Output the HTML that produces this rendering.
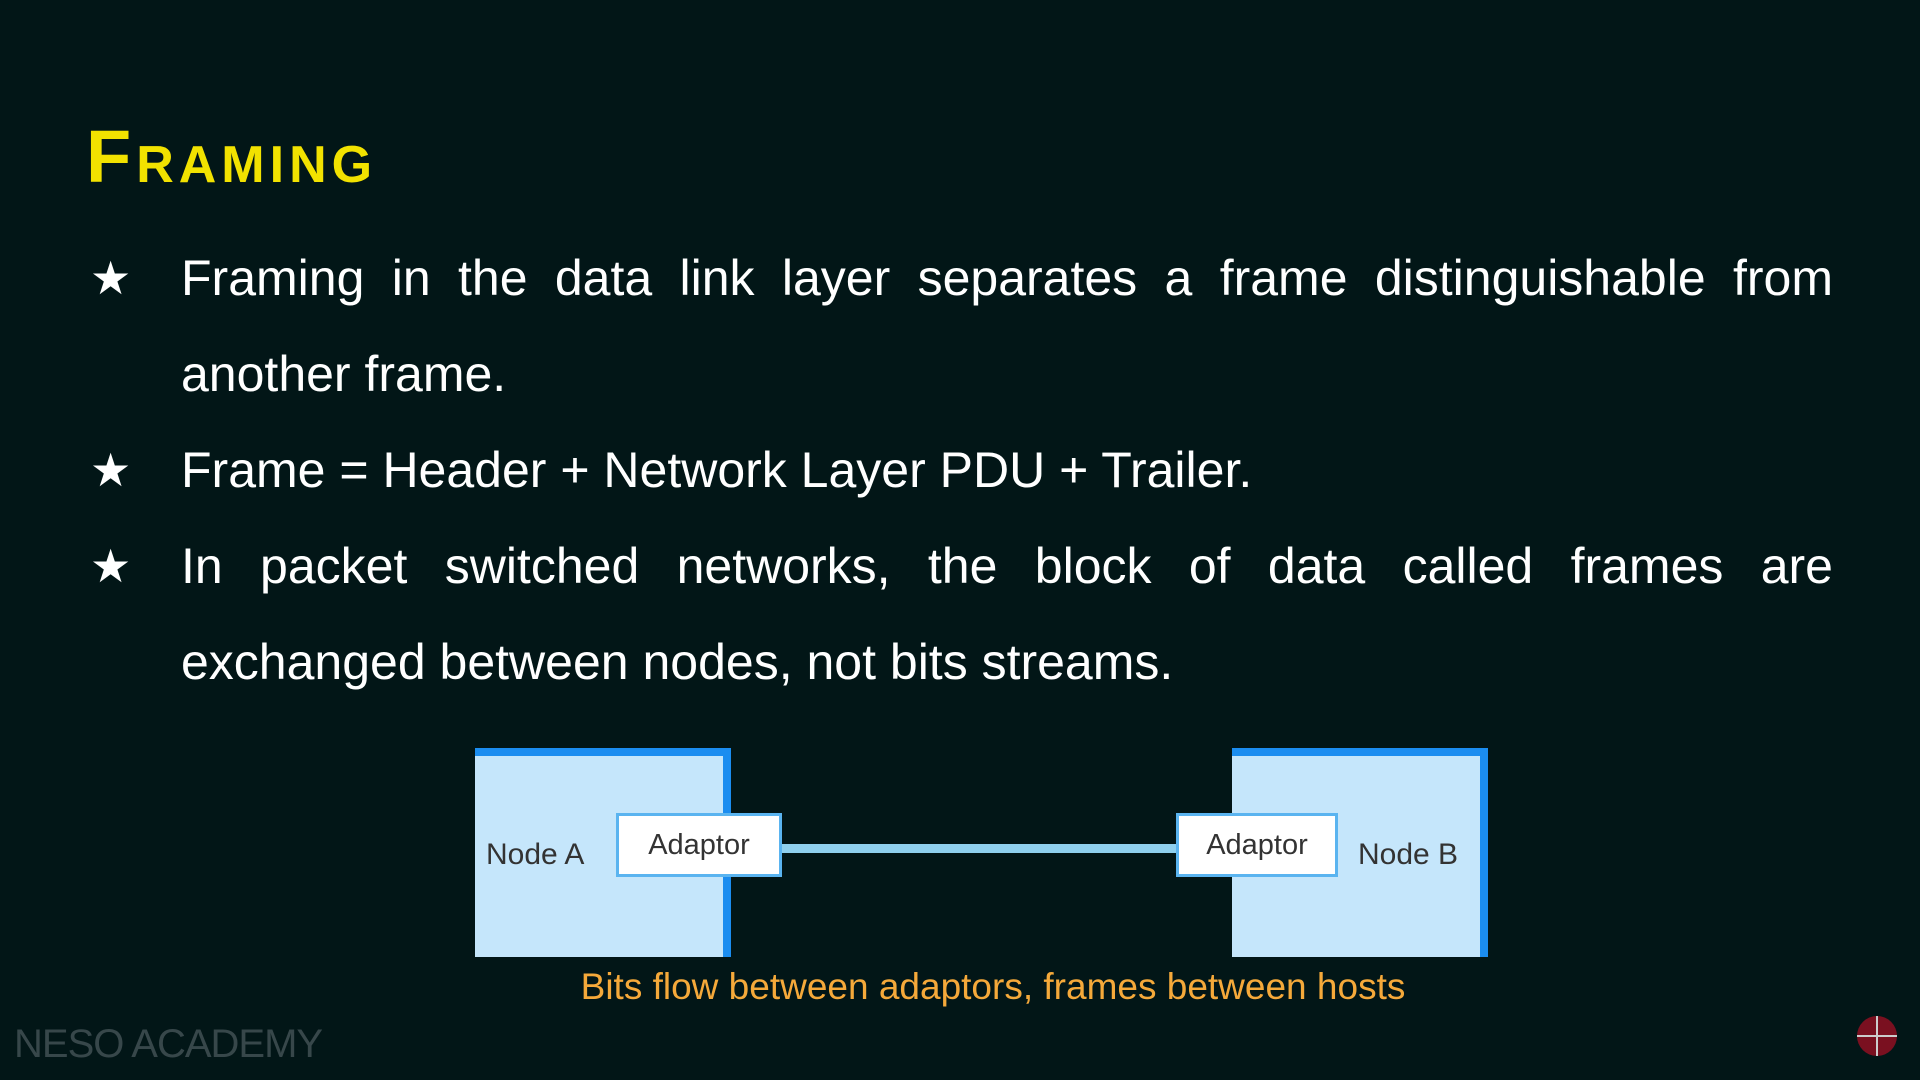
<!DOCTYPE html>
<html><head><meta charset="utf-8"><style>
html,body{margin:0;padding:0}
body{width:1920px;height:1080px;background:#021617;position:relative;overflow:hidden;font-family:"Liberation Sans",sans-serif}
.title{position:absolute;left:86px;top:112px;color:#f2e200;font-size:74px;font-weight:bold;font-variant:small-caps;letter-spacing:5px;line-height:90px}
.star{position:absolute;left:90px;color:#fff;font-size:46px;line-height:96px;font-family:"DejaVu Sans",sans-serif}
.p{position:absolute;left:181px;width:1652px;color:#fff;font-size:50px;line-height:96px;text-align:justify;text-align-last:left}
.box{position:absolute;background:#c5e6fb;box-sizing:border-box}
.node{border-top:8px solid #1b8df0;border-right:8px solid #1b8df0}
.ad{background:#fff;border:3px solid #5ab4f0;color:#333;font-size:29px;display:flex;align-items:center;justify-content:center}
.lbl{position:absolute;color:#333;font-size:30px}
</style></head><body>
<div class="title">Framing</div>
<div class="star" style="top:230px">★</div>
<div class="star" style="top:422px">★</div>
<div class="star" style="top:518px">★</div>
<div class="p" style="top:230px">Framing in the data link layer separates a frame distinguishable from another frame.</div>
<div class="p" style="top:422px">Frame = Header + Network Layer PDU + Trailer.</div>
<div class="p" style="top:518px">In packet switched networks, the block of data called frames are exchanged between nodes, not bits streams.</div>

<div class="box node" style="left:475px;top:748px;width:256px;height:209px"></div>
<div class="box node" style="left:1232px;top:748px;width:256px;height:209px"></div>
<div class="box" style="left:782px;top:844px;width:396px;height:9px;background:#8fd0ee"></div>
<div class="box ad" style="left:616px;top:813px;width:166px;height:64px">Adaptor</div>
<div class="box ad" style="left:1176px;top:813px;width:162px;height:64px">Adaptor</div>
<div class="lbl" style="left:486px;top:838px">Node A</div>
<div class="lbl" style="left:1358px;top:838px">Node B</div>
<div style="position:absolute;left:0;width:1986px;text-align:center;top:966px;color:#f5a93a;font-size:37px">Bits flow between adaptors, frames between hosts</div>
<div style="position:absolute;left:14px;top:1022px;color:#37474a;font-size:40px;letter-spacing:-1px">NESO ACADEMY</div>
<div style="position:absolute;left:1857px;top:1016px;width:40px;height:40px;border-radius:50%;background:#7a1020"></div>
<div style="position:absolute;left:1857px;top:1035px;width:40px;height:2px;background:#ccc"></div>
<div style="position:absolute;left:1876px;top:1016px;width:2px;height:40px;background:#ccc"></div>
</body></html>
